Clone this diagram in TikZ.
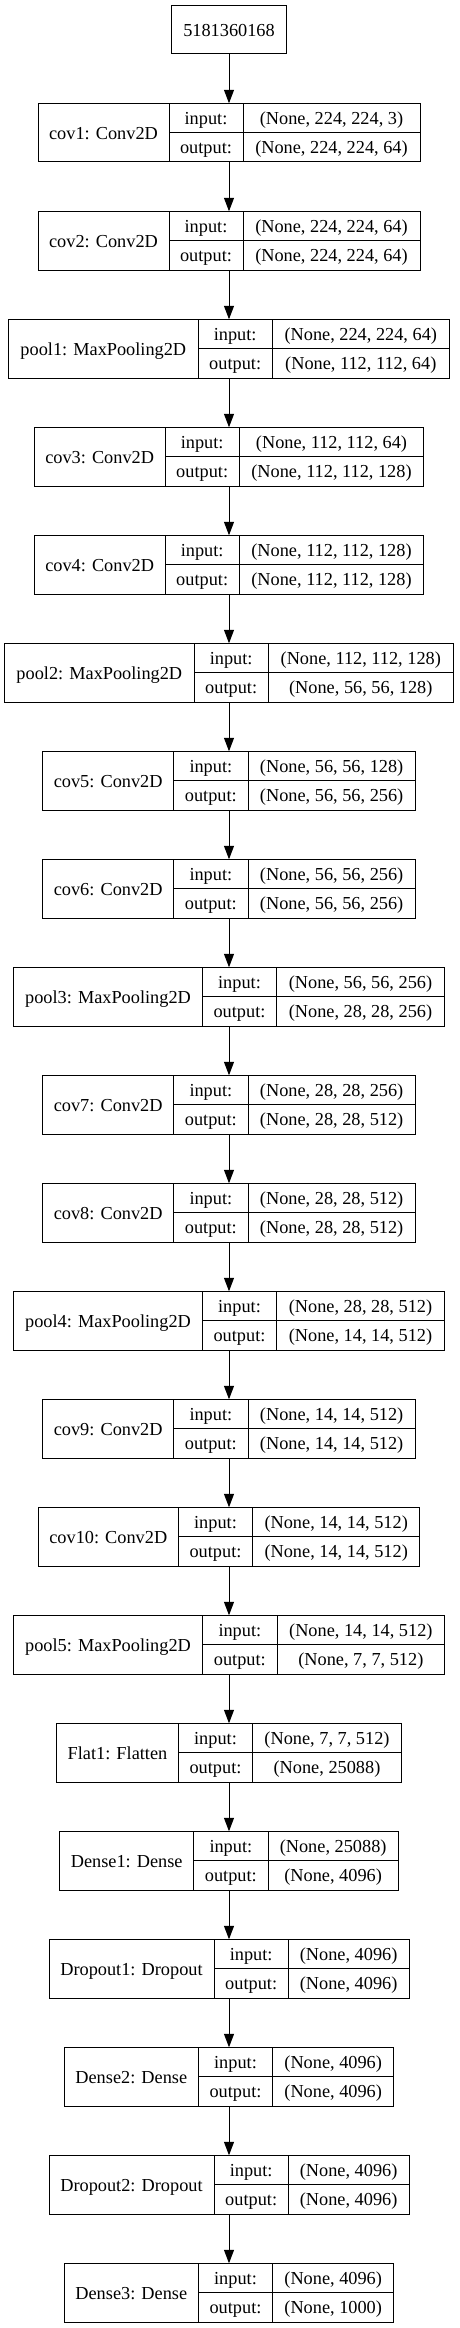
\documentclass[tikz,border=0pt]{standalone}
\usepackage{fontspec}
\setmainfont{Liberation Serif}
\usetikzlibrary{arrows.meta}

\begin{document}
\begin{tikzpicture}[
  x=1pt, y=-1pt,
  cell/.style={draw, line width=1pt, inner sep=0pt, outer sep=0pt, text height=16pt, text depth=3pt, font=\fontsize{18.3}{22}\selectfont},
  frame/.style={inner sep=0pt, outer sep=0pt, minimum height=58.7pt},
  arr/.style={-{Triangle[length=13.5pt, width=10pt]}, line width=1pt}
]
\useasboundingbox (0,0) rectangle (459,2328);

% Input layer
\node[cell, minimum width=115, minimum height=48] (input) at (229,29.7) {5181360168};

% Layers: name / label / left edge / first divider / second divider / input shape / output shape
\foreach \n/\lab/\xa/\xb/\xc/\vin/\vout [count=\i, remember=\n as \prev (initially input)] in {
  cov1/{cov1: Conv2D}/38/169/243/{(None, 224, 224, 3)}/{(None, 224, 224, 64)},
  cov2/{cov2: Conv2D}/38/169/243/{(None, 224, 224, 64)}/{(None, 224, 224, 64)},
  pool1/{pool1: MaxPooling2D}/8.7/198/272.3/{(None, 224, 224, 64)}/{(None, 112, 112, 64)},
  cov3/{cov3: Conv2D}/34.3/165/239.3/{(None, 112, 112, 64)}/{(None, 112, 112, 128)},
  cov4/{cov4: Conv2D}/34.3/165/239.3/{(None, 112, 112, 128)}/{(None, 112, 112, 128)},
  pool2/{pool2: MaxPooling2D}/4.7/194/268.3/{(None, 112, 112, 128)}/{(None, 56, 56, 128)},
  cov5/{cov5: Conv2D}/42.7/173.7/248/{(None, 56, 56, 128)}/{(None, 56, 56, 256)},
  cov6/{cov6: Conv2D}/42.7/173.7/248/{(None, 56, 56, 256)}/{(None, 56, 56, 256)},
  pool3/{pool3: MaxPooling2D}/13.7/202.3/276.7/{(None, 56, 56, 256)}/{(None, 28, 28, 256)},
  cov7/{cov7: Conv2D}/42.7/173.7/248/{(None, 28, 28, 256)}/{(None, 28, 28, 512)},
  cov8/{cov8: Conv2D}/42.7/173.7/248/{(None, 28, 28, 512)}/{(None, 28, 28, 512)},
  pool4/{pool4: MaxPooling2D}/13.7/202.3/276.7/{(None, 28, 28, 512)}/{(None, 14, 14, 512)},
  cov9/{cov9: Conv2D}/42.7/173.7/248/{(None, 14, 14, 512)}/{(None, 14, 14, 512)},
  cov10/{cov10: Conv2D}/38.3/178.3/252.7/{(None, 14, 14, 512)}/{(None, 14, 14, 512)},
  pool5/{pool5: MaxPooling2D}/13.3/202.7/277/{(None, 14, 14, 512)}/{(None, 7, 7, 512)},
  flat1/{Flat1: Flatten}/56.7/178.3/252.7/{(None, 7, 7, 512)}/{(None, 25088)},
  dense1/{Dense1: Dense}/59.7/193.7/268/{(None, 25088)}/{(None, 4096)},
  drop1/{Dropout1: Dropout}/49/214/288.3/{(None, 4096)}/{(None, 4096)},
  dense2/{Dense2: Dense}/64.3/198.3/272.7/{(None, 4096)}/{(None, 4096)},
  drop2/{Dropout2: Dropout}/49/214/288.3/{(None, 4096)}/{(None, 4096)},
  dense3/{Dense3: Dense}/64.3/198.3/272.7/{(None, 4096)}/{(None, 1000)}} {
  \pgfmathsetmacro\ym{132.65+108*(\i-1)}
  \node[frame, minimum width=458-2*\xa] (\n) at (229,\ym) {};
  \node[cell, anchor=west, minimum width=\xb-\xa, minimum height=58.7] (\n-name) at (\xa,\ym) {\lab};
  \node[cell, anchor=south west, minimum width=\xc-\xb, minimum height=29.35] (\n-inl) at (\xb,\ym) {input:};
  \node[cell, anchor=north west, minimum width=\xc-\xb, minimum height=29.35] (\n-outl) at (\xb,\ym) {output:};
  \node[cell, anchor=south west, minimum width=458-\xa-\xc, minimum height=29.35] (\n-inv) at (\xc,\ym) {\vin};
  \node[cell, anchor=north west, minimum width=458-\xa-\xc, minimum height=29.35] (\n-outv) at (\xc,\ym) {\vout};
  \draw[arr] (\prev) -- (\n);
}

\end{tikzpicture}
\end{document}
